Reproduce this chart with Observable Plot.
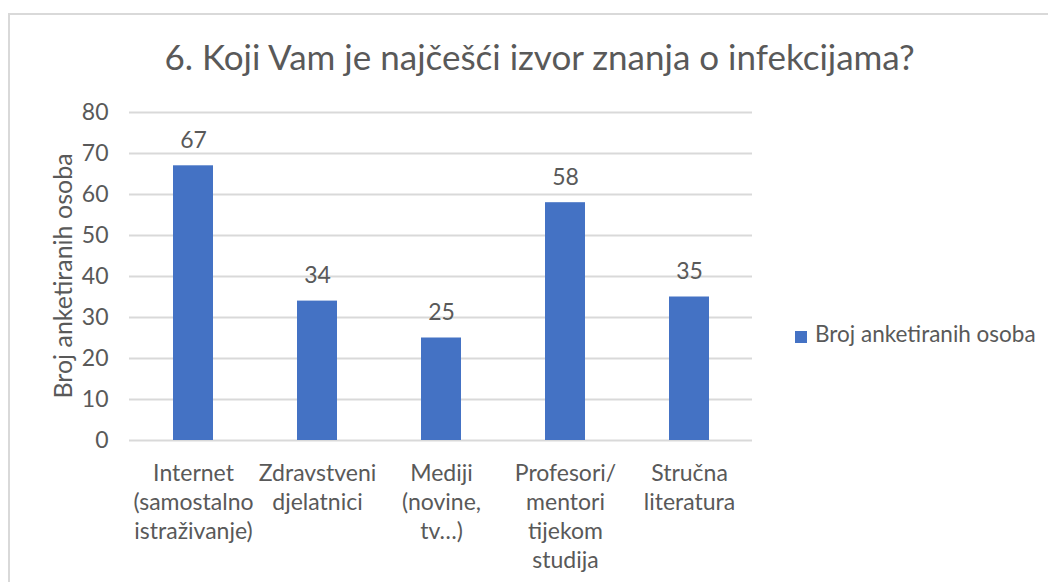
<!DOCTYPE html>
<html>
<head>
<meta charset="utf-8">
<script src="https://cdn.jsdelivr.net/npm/d3@7"></script>
<script src="https://cdn.jsdelivr.net/npm/@observablehq/plot@0.6"></script>
<style>
  body { margin: 0; background: #fff; font-family: Lato, sans-serif; }
  #wrap { position: relative; width: 1048px; height: 582px; overflow: hidden; background: #fff; }
  #frame { position: absolute; left: 8px; top: 13px; width: 1100px; height: 700px; border-top: 2px solid #d9d9d9; border-left: 2px solid #d9d9d9; }
  #title { position: absolute; left: 0; top: 39px; width: 1079px; text-align: center; font-size: 35px; line-height: 35px; color: #595959; white-space: nowrap; }
  #chart { position: absolute; left: 0; top: 0; }
  #ylabel { position: absolute; left: -88px; top: 261px; width: 300px; height: 30px; line-height: 30px; text-align: center; font-size: 25px; color: #595959; white-space: nowrap; transform: rotate(-90deg); transform-origin: 150px 15px; }
  #legend { position: absolute; left: 795px; top: 322px; font-size: 22.5px; line-height: 24px; color: #595959; white-space: nowrap; display: flex; align-items: flex-start; }
  #legend .sw { width: 12px; height: 12px; background: #4472c4; margin-right: 8px; margin-top: 9px; }
</style>
</head>
<body>
<div id="wrap">
  <div id="frame"></div>
  <div id="chart"></div>
  <div id="title">6. Koji Vam je najčešći izvor znanja o infekcijama?</div>
  <div id="ylabel"></div>
  <div id="legend"><span class="sw"></span><span id="legendText"></span></div>
</div>
<script>
const categories = [
  "Internet\n(samostalno\nistraživanje)",
  "Zdravstveni\ndjelatnici",
  "Mediji\n(novine,\ntv…)",
  "Profesori/\nmentori\ntijekom\nstudija",
  "Stručna\nliteratura"
];
const values = [67, 34, 25, 58, 35];
const yTicks = [0, 10, 20, 30, 40, 50, 60, 70, 80];
const seriesName = "Broj anketiranih osoba";

const data = categories.map((c, i) => ({category: c, value: values[i]}));

document.getElementById("ylabel").textContent = seriesName;
document.getElementById("legendText").textContent = seriesName;

const chart = Plot.plot({
  width: 1048,
  height: 582,
  marginLeft: 129,
  marginRight: 296,
  marginTop: 112,
  marginBottom: 142,
  style: {fontFamily: "Lato, sans-serif", fontSize: "23px", color: "#595959", background: "transparent"},
  x: {domain: categories, paddingInner: 0.68, paddingOuter: 0.34, label: null},
  y: {domain: [0, 80], ticks: yTicks, label: null},
  marks: [
    Plot.gridY(yTicks, {stroke: "#d9d9d9", strokeOpacity: 1, strokeWidth: 2}),
    Plot.barY(data, {x: "category", y: "value", fill: "#4472c4"}),
    Plot.text(data, {x: "category", y: "value", text: d => String(d.value), dy: -18, lineAnchor: "bottom", fill: "#595959", fontSize: 23}),
    Plot.axisY(yTicks, {tickSize: 0, tickPadding: 21, fontSize: 23, label: null}),
    Plot.axisX({tickSize: 0, tickPadding: 20, fontSize: 23, lineHeight: 1.26, label: null})
  ]
});
document.getElementById("chart").appendChild(chart);
</script>
</body>
</html>
